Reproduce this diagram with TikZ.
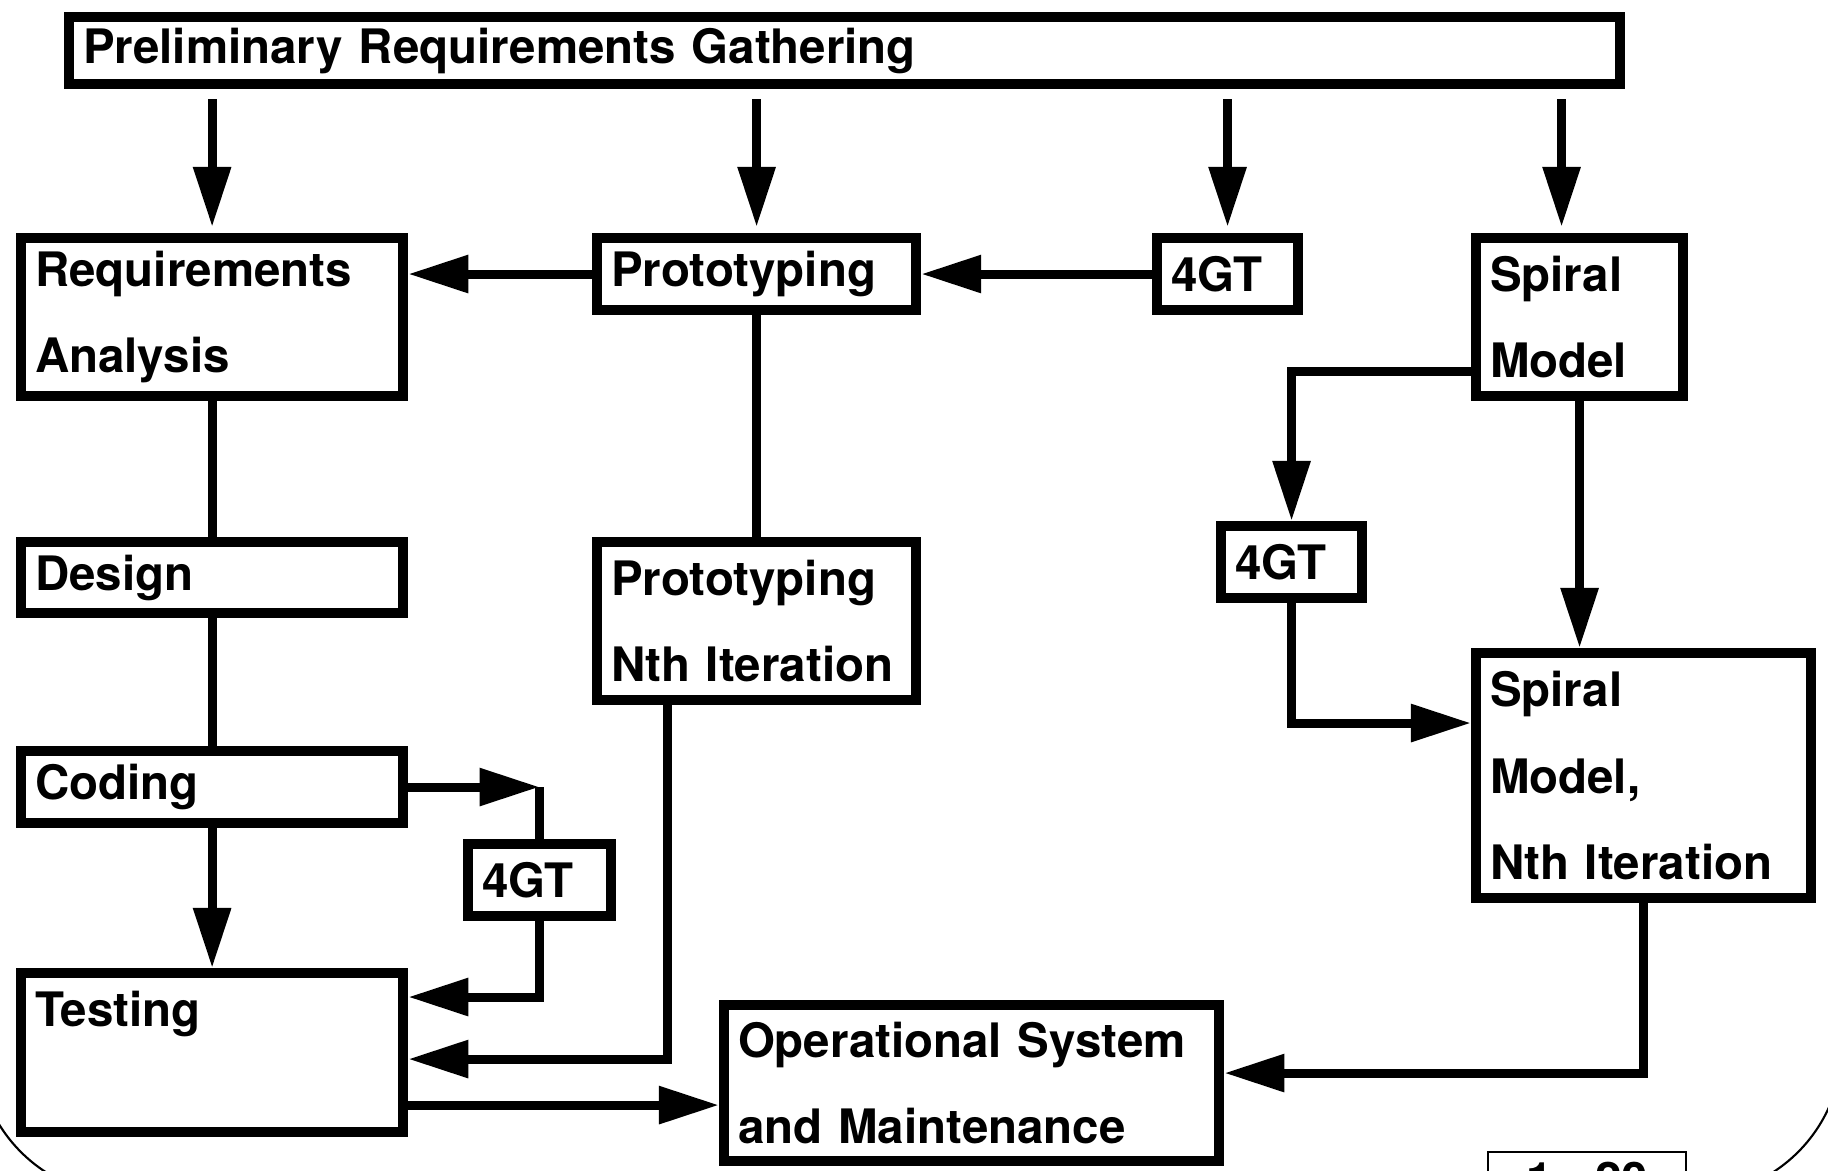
\documentclass[tikz,border=0pt]{standalone}
\usepackage{fontspec}
\setmainfont{TeX Gyre Heros}
\usetikzlibrary{arrows.meta, calc}

\begin{document}
\begin{tikzpicture}[x=0.01cm, y=-0.01cm,
  stage/.style={draw, line width=1mm, anchor=north west, align=left, inner xsep=1.4mm, inner ysep=0pt, font=\bfseries\fontsize{13.5}{24.7}\selectfont},
  link/.style={line width=0.9mm},
  flow/.style={link, -{Triangle[length=6mm, width=3.6mm]}}]
  \useasboundingbox (0,0) rectangle (1828,1170);
  \clip (0,0) rectangle (1828,1170);

  \draw[line width=0.6pt, rounded corners=1.5cm] (-23,-300) rectangle (1842,1196);

  \node[stage, text width=15.22cm, minimum height=6.7mm] (top) at (64,12) {Preliminary Requirements Gathering};

  \node[stage, text width=3.54cm, minimum height=15.8mm] (req) at (16,233) {Requirements\\Analysis};
  \node[stage, text width=2.91cm, minimum height=7.2mm] (proto) at (592,233) {Prototyping};
  \node[stage, text width=1.13cm, minimum height=7.2mm] (gtA) at (1152,233) {4GT};
  \node[stage, text width=1.79cm, minimum height=15.8mm] (spiral) at (1471,233) {Spiral\\Model};

  \node[stage, text width=3.54cm, minimum height=7.1mm] (design) at (16,537) {Design};
  \node[stage, text width=3.54cm, minimum height=7.2mm] (coding) at (16,746) {Coding};
  \node[stage, text width=3.54cm, minimum height=15.9mm] (testing) at (16,968) {Testing\\\mbox{}};
  \node[stage, text width=1.15cm, minimum height=7.2mm] (gtB) at (463,839) {4GT};

  \node[stage, text width=2.91cm, minimum height=15.8mm] (protoN) at (592,537) {Prototyping\\Nth Iteration};
  \node[stage, text width=4.67cm, minimum height=15.6mm] (oper) at (719,1000) {Operational System\\and Maintenance};

  \node[stage, text width=1.13cm, minimum height=7.2mm] (gtC) at (1216,521) {4GT};
  \node[stage, text width=3.07cm, minimum height=24.5mm] (spiralN) at (1471,648) {Spiral\\Model,\\Nth Iteration};

  \node[draw, line width=0.6pt, anchor=north west, minimum width=1.98cm, inner ysep=1mm, font=\bfseries\fontsize{13.5}{16}\selectfont] (page) at (1487,1151) {1 - 20};

  \draw[flow, shorten <=1mm, shorten >=0.6mm] (top.south -| req.north) -- (req.north);
  \draw[flow, shorten <=1mm, shorten >=0.6mm] (top.south -| proto.north) -- (proto.north);
  \draw[flow, shorten <=1mm, shorten >=0.6mm] (top.south -| gtA.north) -- (gtA.north);
  \draw[flow, shorten <=1mm, shorten >=0.6mm] ([xshift=-0.18cm]spiral.north |- top.south) -- ([xshift=-0.18cm]spiral.north);

  \draw[flow] (proto.west) -- (proto.west -| req.east);
  \draw[flow] (gtA.west) -- (proto.east);

  \draw[link] (req.south) -- (design.north);
  \draw[link] (design.south) -- (coding.north);
  \draw[flow] (coding.south) -- (testing.north);

  \draw[flow] (coding.east) -- (coding.east -| gtB.north);
  \draw[link] (coding.east -| gtB.north) -- (gtB.north);
  \draw[flow] (gtB.south) |- ([yshift=-0.29cm]testing.north east);

  \draw[link] (proto.south) -- (protoN.north);
  \draw[flow] ([xshift=0.75cm]protoN.south west) |- ([yshift=-0.91cm]testing.north east);
  \draw[flow] ([yshift=-1.37cm]testing.north east) -- ([yshift=-1.37cm]testing.north east -| oper.west);

  \draw[flow] ([yshift=-1.38cm]spiral.north west) -| (gtC.north);
  \draw[flow] (gtC.south) |- ([yshift=-0.75cm]spiralN.north west);
  \draw[flow] (spiral.south) -- (spiral.south |- spiralN.north);
  \draw[flow] (spiralN.south) |- ([yshift=-0.73cm]oper.north east);
\end{tikzpicture}
\end{document}
